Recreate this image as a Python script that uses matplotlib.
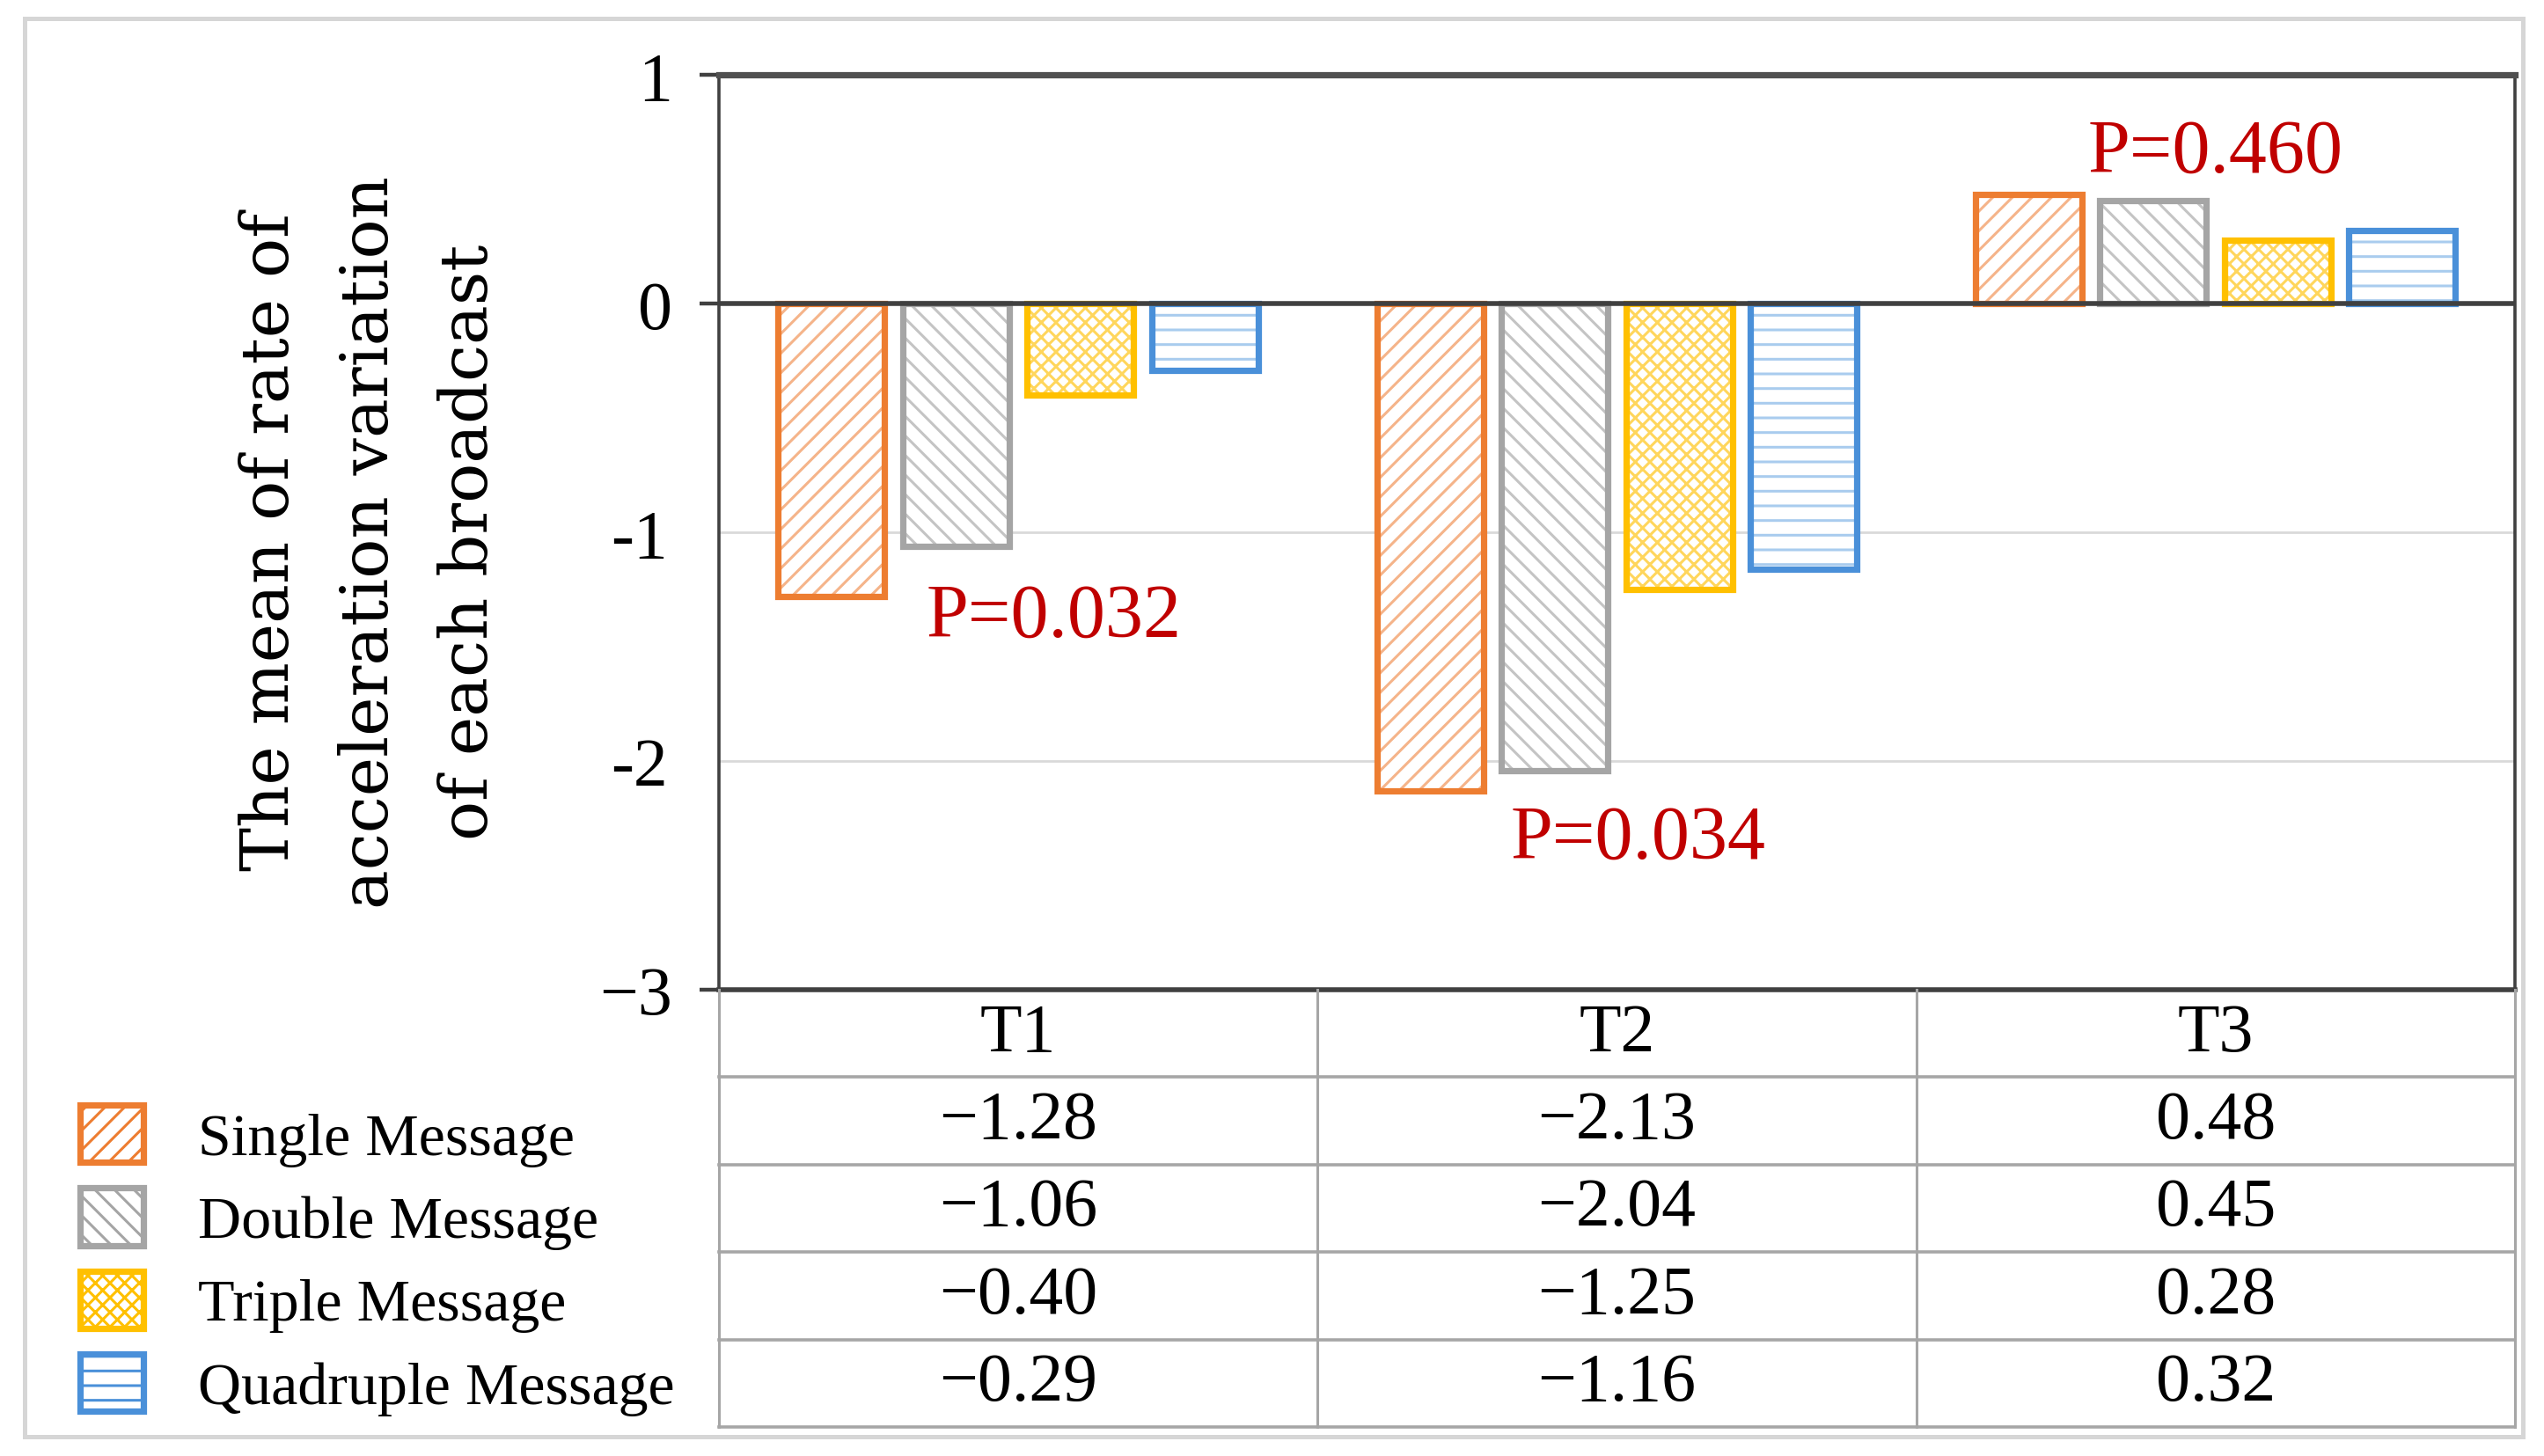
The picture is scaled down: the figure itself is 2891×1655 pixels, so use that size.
import matplotlib
matplotlib.use('Agg')
from matplotlib import pyplot as plt
from matplotlib.patches import Patch, Rectangle
import numpy as np

plt.rcParams['font.family'] = ['Liberation Serif', 'DejaVu Serif']
plt.rcParams['hatch.linewidth'] = 1.1

categories = ['T1', 'T2', 'T3']
series_names = ['Single Message', 'Double Message', 'Triple Message', 'Quadruple Message']
single = [-1.28, -2.13, 0.48]
double = [-1.06, -2.04, 0.45]
triple = [-0.40, -1.25, 0.28]
quadruple = [-0.29, -1.16, 0.32]
p_labels = ['P=0.032', 'P=0.034', 'P=0.460']

series = [single, double, triple, quadruple]
edge_colors = ['#ED7D31', '#A5A5A5', '#FFC000', '#4A90D9']
hatch_colors = ['#F5B48A', '#C4C4C4', '#FFD65C', '#A9CCEE']
hatches = ['///', '\\\\\\', 'xxxx', '--']

fig = plt.figure(figsize=(14.455, 8.28), dpi=200)

# outer light border
fig.patches.append(Rectangle((0.0096, 0.0133), 0.9821, 0.9734, transform=fig.transFigure,
                             fill=False, edgecolor='#d6d6d6', linewidth=1.8))

ax = fig.add_axes([0.2826, 0.320, 0.7059, 0.6278])
x = np.arange(len(categories))
width = 0.178
step = 0.208
for i, vals in enumerate(series):
    pos = x + (i - 1.5) * step
    ax.bar(pos, vals, width, color='white', edgecolor=hatch_colors[i], hatch=hatches[i],
           linewidth=0, zorder=2)
    ax.bar(pos, vals, width, fill=False, edgecolor=edge_colors[i], linewidth=2.6, zorder=3)

ax.set_xlim(-0.5, 2.5)
ax.set_ylim(-3, 1)
ax.set_xticks([])
ax.set_yticks([1, 0, -3])
ax.set_yticklabels(['1', '0', '\u22123'])
ax.set_yticks([-1, -2], minor=True)
ax.set_yticklabels(['-1', '-2'], minor=True)
ax.tick_params(axis='y', which='major', length=8, width=1.6, color='#404040', pad=11, labelsize=28)
ax.tick_params(axis='y', which='minor', length=0, pad=21, labelsize=28)
ax.grid(axis='y', which='minor', color='#d9d9d9', linewidth=1.0, zorder=0)
ax.axhline(0, color='#404040', linewidth=2.0, zorder=4)
for s in ['left', 'right', 'bottom']:
    ax.spines[s].set_color('#404040')
    ax.spines[s].set_linewidth(1.3)
ax.spines['top'].set_color('#505050')
ax.spines['top'].set_linewidth(2.6)
ax.spines['bottom'].set_linewidth(2.0)

red = '#C00000'
ax.text(0.06, -1.37, p_labels[0], color=red, fontsize=31, ha='center', va='center')
ax.text(1.035, -2.34, p_labels[1], color=red, fontsize=31, ha='center', va='center')
ax.text(2.0, 0.66, p_labels[2], color=red, fontsize=31, ha='center', va='center')

fig.text(0.1454, 0.628, 'The mean of rate of\nacceleration variation\nof each broadcast',
         rotation=90, ha='center', va='center', multialignment='center',
         fontsize=27, linespacing=1.7, family=['DejaVu Serif'])

# data table under the plot
tab = fig.add_axes([0.2826, 0.020, 0.7059, 0.300])
tab.set_xlim(0, 3)
tab.set_ylim(0, 5)
tab.axis('off')
line_c = '#a6a6a6'
for r in range(0, 5):
    tab.plot([0, 3], [r, r], color=line_c, linewidth=1.3, clip_on=False)
for c in range(0, 4):
    tab.plot([c, c], [0, 5], color=line_c, linewidth=1.1, clip_on=False)
for j, cat in enumerate(categories):
    tab.text(j + 0.5, 4.5, cat, ha='center', va='center', fontsize=28)
    for i, vals in enumerate(series):
        txt = f'{vals[j]:.2f}'.replace('-', '\u2212')
        tab.text(j + 0.5, 3.5 - i, txt, ha='center', va='center', fontsize=28)

handles = [Patch(facecolor='white', edgecolor=edge_colors[i], hatch=hatches[i], linewidth=2.6)
           for i in range(4)]
fig.legend(handles, series_names, loc='upper left', bbox_to_anchor=(0.0316, 0.241),
           frameon=False, fontsize=24.5, handlelength=1.05, handleheight=1.1,
           handletextpad=0.92, labelspacing=0.36, borderpad=0, borderaxespad=0)

fig.savefig('out.png', dpi=200)
